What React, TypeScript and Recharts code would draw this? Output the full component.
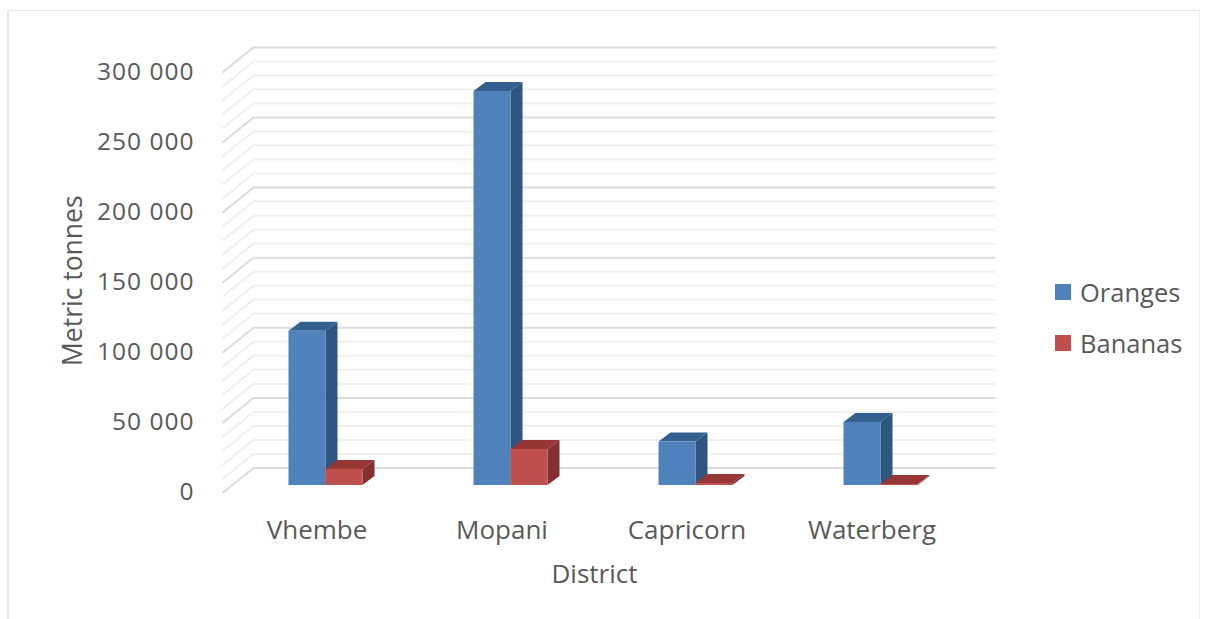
import { BarChart, Bar, XAxis, YAxis, Legend, CartesianGrid, Label } from 'recharts';

const districts = ['Vhembe', 'Mopani', 'Capricorn', 'Waterberg'];
const oranges = [110000, 281000, 31000, 45000];
const bananas = [11500, 25700, 1500, 700];
const yTicks = [0, 50000, 100000, 150000, 200000, 250000, 300000];
const gridValues = [
    0, 10000, 20000, 30000, 40000, 50000, 60000, 70000, 80000, 90000, 100000,
    110000, 120000, 130000, 140000, 150000, 160000, 170000, 180000, 190000, 200000,
    210000, 220000, 230000, 240000, 250000, 260000, 270000, 280000, 290000, 300000,
];

const data = districts.map((district, i) => ({
    district,
    Oranges: oranges[i],
    Bananas: bananas[i],
}));

const TEXT = '#595959';
const FONT = '"Open Sans", sans-serif';

// extrusion of a bar towards the back wall
const DEPTH_X = 12;
const DEPTH_Y = 9;

function fmt(n: number) {
    return n === 0 ? '0' : `${n / 1000} 000`;
}

function box(front: string, top: string, side: string) {
    return function Box3D({ x, y, width, height }: any) {
        const r = x + width;
        const b = y + height;
        return (
            <g>
                <polygon points={`${r},${y} ${r + DEPTH_X},${y - DEPTH_Y} ${r + DEPTH_X},${b - DEPTH_Y} ${r},${b}`} fill={side} />
                <polygon points={`${x},${y} ${x + DEPTH_X},${y - DEPTH_Y} ${r + DEPTH_X},${y - DEPTH_Y} ${r},${y}`} fill={top} />
                <rect x={x} y={y} width={width} height={height} fill={front} />
            </g>
        );
    };
}

// one gridline: side wall going back from the floor edge, then along the back wall
function WallLine({ x1, x2, y1, index, total }: any) {
    // grid values run every 10 000, so every fifth line is a labelled one
    const major = (total - 1 - index) % 5 === 0;
    return (
        <polyline
            points={`${x1 - 10},${y1 + 8} ${x1 + 21},${y1 - 17} ${x2 + 23},${y1 - 17}`}
            fill="none"
            stroke={major ? '#dcdcdc' : '#efefef'}
            strokeWidth={2}
        />
    );
}

function LegendRows({ payload }: any) {
    return (
        <div style={{ position: 'absolute', left: 0, top: 0 }}>
            {payload.map((item: any) => (
                <div key={item.value} style={{ display: 'flex', alignItems: 'center', height: 51 }}>
                    <span style={{ width: 16, height: 16, background: item.color, marginRight: 9 }} />
                    <span style={{ color: TEXT, fontFamily: FONT, fontSize: 25.5 }}>{item.value}</span>
                </div>
            ))}
        </div>
    );
}

export default function App() {
    return (
        <div style={{ position: 'absolute', left: 0, top: 0, width: 1205, height: 619, background: '#fff', overflow: 'hidden' }}>
            <div style={{ position: 'absolute', left: 7, top: 10, width: 1190, height: 640, borderTop: '1px solid #e6e6e6', borderRight: '1px solid #eeeeee', borderLeft: '2px solid #e6e6e6' }} />
            <BarChart
                width={1205}
                height={619}
                data={data}
                barSize={37}
                barGap={0}
                margin={{ top: 64.4, right: 82.5, bottom: 34, left: 92.5 }}
                style={{ position: 'absolute', left: 0, top: 0 }}
            >
                <CartesianGrid
                    vertical={false}
                    horizontalValues={gridValues}
                    horizontal={(props: any) => <WallLine key={props.index} {...props} total={gridValues.length} />}
                />
                <XAxis
                    dataKey="district"
                    height={100}
                    tickLine={false}
                    axisLine={false}
                    interval={0}
                    tick={{ fontSize: 26, fill: TEXT, fontFamily: FONT, dx: -8, dy: 28 }}
                >
                    <Label value="District" position="insideBottom" offset={2} dx={-8} fontSize={26} fill={TEXT} fontFamily={FONT} />
                </XAxis>
                <YAxis
                    width={140}
                    domain={[0, 300000]}
                    ticks={yTicks}
                    interval={0}
                    tickFormatter={fmt}
                    tickLine={false}
                    axisLine={false}
                    tick={{ fontSize: 24.5, fill: TEXT, fontFamily: FONT, dx: -30, dy: 6.5, letterSpacing: 1 }}
                >
                    <Label value="Metric tonnes" angle={-90} position="insideLeft" offset={-20} dy={6} textAnchor="middle" fontSize={26.5} fill={TEXT} fontFamily={FONT} />
                </YAxis>
                <Legend
                    layout="vertical"
                    align="right"
                    verticalAlign="top"
                    width={150}
                    itemSorter={null}
                    wrapperStyle={{ left: 1055, top: 266.5 }}
                    content={<LegendRows />}
                />
                <Bar dataKey="Oranges" fill="#4F81BD" isAnimationActive={false} shape={box('#4F81BD', '#34608F', '#2F5581')} />
                <Bar dataKey="Bananas" fill="#C0504D" isAnimationActive={false} shape={box('#C0504D', '#963735', '#853030')} />
            </BarChart>
        </div>
    );
}
